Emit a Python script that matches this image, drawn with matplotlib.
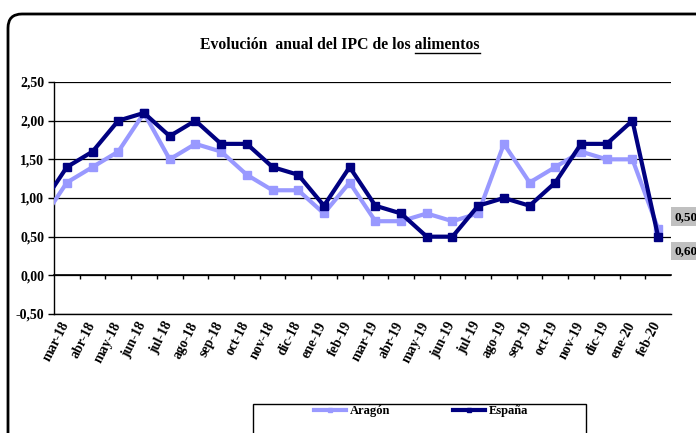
import matplotlib
matplotlib.use("Agg")
import matplotlib.pyplot as plt
from matplotlib.patches import FancyBboxPatch, Rectangle
from matplotlib.transforms import IdentityTransform, ScaledTranslation
from matplotlib.ticker import FuncFormatter

# datos (feb-18 queda fuera del eje, solo se ve el tramo recortado)
meses = ['feb-18', 'mar-18', 'abr-18', 'may-18', 'jun-18', 'jul-18', 'ago-18', 'sep-18',
         'oct-18', 'nov-18', 'dic-18', 'ene-19', 'feb-19', 'mar-19', 'abr-19',
         'may-19', 'jun-19', 'jul-19', 'ago-19', 'sep-19', 'oct-19', 'nov-19',
         'dic-19', 'ene-20', 'feb-20']
aragon = [0.7, 1.2, 1.4, 1.6, 2.1, 1.5, 1.7, 1.6, 1.3, 1.1, 1.1, 0.8, 1.2, 0.7, 0.7,
          0.8, 0.7, 0.8, 1.7, 1.2, 1.4, 1.6, 1.5, 1.5, 0.6]
espana = [0.9, 1.4, 1.6, 2.0, 2.1, 1.8, 2.0, 1.7, 1.7, 1.4, 1.3, 0.9, 1.4, 0.9, 0.8,
          0.5, 0.5, 0.9, 1.0, 0.9, 1.2, 1.7, 1.7, 2.0, 0.5]
yticks = [-0.5, 0.0, 0.5, 1.0, 1.5, 2.0, 2.5]

COL_AR = '#9999FF'
COL_ES = '#000080'
plt.rcParams['font.family'] = ['Liberation Serif', 'DejaVu Serif']
plt.rcParams['font.weight'] = 'bold'

W, H = 696, 433
fig = plt.figure(figsize=(W / 100, H / 100), dpi=100)

# marco redondeado del grafico
marco = FancyBboxPatch((8, -30), 740, H - 14 + 30,
                       boxstyle='round,pad=0,rounding_size=14',
                       transform=IdentityTransform(), fc='none', ec='black', lw=2)
fig.patches.append(marco)

ax = fig.add_axes([54 / W, 1 - 314 / H, (671 - 54) / W, (314 - 82) / H])
x = list(range(-1, len(meses) - 1))

ax.plot(x, aragon, color=COL_AR, lw=3, marker='s', markersize=6, label='Aragón', zorder=3)
ax.plot(x, espana, color=COL_ES, lw=3, marker='s', markersize=6, label='España', zorder=4)

ax.set_xlim(-0.5, len(meses) - 1.5)
ax.set_ylim(-0.5, 2.5)
ax.set_yticks(yticks)
ax.yaxis.set_major_formatter(FuncFormatter(lambda v, p: f'{v:.2f}'.replace('.', ',')))
ax.tick_params(axis='y', direction='out', length=4, width=1, pad=3, labelsize=10)
for lbl in ax.get_yticklabels():
    lbl.set_fontweight('bold')

ax.set_xticks(x[1:])
ax.set_xticklabels(meses[1:], rotation=63, ha='right', va='top', fontsize=10,
                   fontweight='bold')
ax.tick_params(axis='x', length=0, pad=4)
desplaza = ScaledTranslation(5 / 100, 0, fig.dpi_scale_trans)
for lbl in ax.get_xticklabels():
    lbl.set_transform(lbl.get_transform() + desplaza)

ax.grid(axis='y', color='black', lw=0.9)
ax.set_axisbelow(True)
for s in ['top', 'right']:
    ax.spines[s].set_visible(False)
ax.spines['left'].set_linewidth(1)
ax.spines['bottom'].set_linewidth(1)

# eje en el cero con marcas entre categorias
eje0 = ax.secondary_xaxis(1 / 6)
eje0.set_xticks([i + 0.5 for i in x[1:-1]])
eje0.set_xticklabels([])
eje0.tick_params(direction='out', length=3, width=1)
eje0.spines['bottom'].set_linewidth(1.2)

# etiquetas de datos del ultimo mes
ax.annotate(f'{espana[-1]:.2f}'.replace('.', ','), (x[-1], espana[-1]),
            xytext=(16, 20), textcoords='offset pixels', va='center', ha='left',
            fontsize=9.5, fontweight='bold', annotation_clip=False,
            bbox=dict(fc='#C0C0C0', ec='none', pad=2.5))
ax.annotate(f'{aragon[-1]:.2f}'.replace('.', ','), (x[-1], aragon[-1]),
            xytext=(16, -22), textcoords='offset pixels', va='center', ha='left',
            fontsize=9.5, fontweight='bold', annotation_clip=False,
            bbox=dict(fc='#C0C0C0', ec='none', pad=2.5))

# titulo con la ultima palabra subrayada
titulo = 'Evolución  anual del IPC de los '
subrayado = 'alimentos'
t_all = fig.text(340 / W, 1 - 45 / H, titulo + subrayado, ha='center', va='center',
                 fontsize=11.3, fontweight='bold')
fig.canvas.draw()
r = fig.canvas.get_renderer()
bb_all = t_all.get_window_extent(r)
tmp = fig.text(0, 0, subrayado, fontsize=11.3, fontweight='bold')
w_sub = tmp.get_window_extent(r).width
tmp.remove()
fig.add_artist(plt.Line2D([bb_all.x1 - w_sub, bb_all.x1], [H - 53, H - 53],
                          transform=IdentityTransform(), color='black', lw=1))

# leyenda
fig.patches.append(Rectangle((253, -20), 333, H - 404 + 20, transform=IdentityTransform(),
                             fc='white', ec='black', lw=1))
handles, labels = ax.get_legend_handles_labels()
fig.legend(handles, labels, loc='center', bbox_to_anchor=(421 / W, 1 - 411 / H),
           ncol=2, frameon=False, handlelength=2.6, handletextpad=0.3,
           columnspacing=5.0, markerscale=0.6, prop={'weight': 'bold', 'size': 9})

fig.savefig('out.png', dpi=100)
